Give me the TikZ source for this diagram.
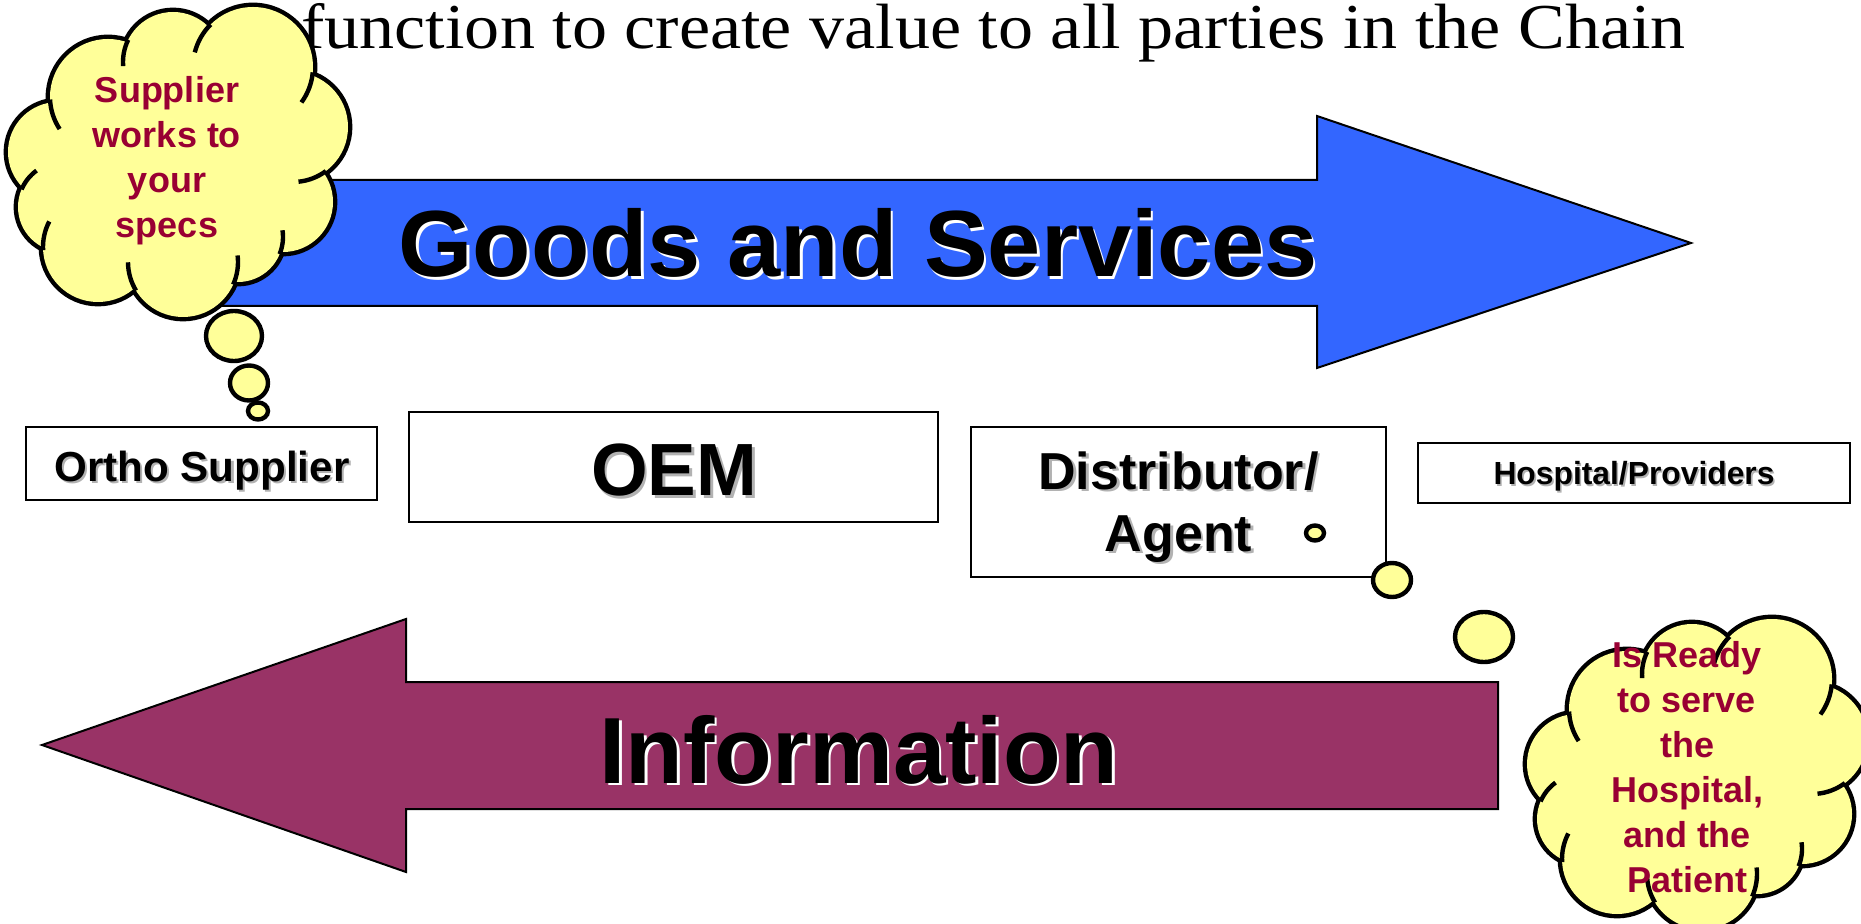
\documentclass[tikz,border=0pt]{standalone}
\usepackage{fontspec}
\usepackage{graphicx}
\setmainfont{Liberation Serif}
\newfontfamily\sansfam{Liberation Sans}

\definecolor{goodsblue}{HTML}{3366FF}
\definecolor{infopurple}{HTML}{993366}
\definecolor{cloudyellow}{HTML}{FFFF99}
\definecolor{cloudred}{HTML}{990033}
\definecolor{labelshadow}{HTML}{B2B2B2}

% text with an offset copy behind it
\newcommand\shadowed[3]{\rlap{\kern#2\raisebox{-#2}{\textcolor{#3}{#1}}}#1}

% lobes of the cloud (x/y/radius, y downwards) and the notches that get an inner stub
\def\lobelist{-120/-10/50, -70/-65/58, -5/-100/50, 75/-95/60, 115/-35/55, 105/40/50, 60/75/45, 5/100/55, -80/85/55, -115/45/45}
\def\notchlist{-120/-10/50/-70/-65/58, -70/-65/58/-5/-100/50, -5/-100/50/75/-95/60, 115/-35/55/75/-95/60, 105/40/50/115/-35/55, 105/40/50/60/75/45, 60/75/45/5/100/55, -80/85/55/5/100/55, -115/45/45/-80/85/55, -120/-10/50/-115/45/45}

\tikzset{
  thought/.pic={
    % outline pass
    \foreach \cx/\cy/\r in \lobelist
      {\filldraw[fill=cloudyellow, draw=black, line width=4.4pt] (\cx,\cy) circle[radius=\r];}
    \filldraw[fill=cloudyellow, draw=black, line width=4.4pt] (0,0) ellipse[x radius=115, y radius=95];
    % fill pass hides the inner parts of the outlines
    \foreach \cx/\cy/\r in \lobelist
      {\fill[cloudyellow] (\cx,\cy) circle[radius=\r];}
    \fill[cloudyellow] (0,0) ellipse[x radius=115, y radius=95];
    % short arcs running on from the notches
    \foreach \ax/\ay/\ar/\bx/\by/\br in \notchlist {
      \pgfmathsetmacro\cdist{veclen((\ax)-(\bx),(\ay)-(\by))}
      \pgfmathsetmacro\cphi{atan2((\ay)-(\by),(\ax)-(\bx))}
      \pgfmathsetmacro\cgam{acos(((\cdist)^2+(\br)^2-(\ar)^2)/(2*(\cdist)*(\br)))}
      \pgfmathsetmacro\cpa{veclen((\bx)+(\br)*cos((\cphi)+(\cgam)),(\by)+(\br)*sin((\cphi)+(\cgam)))}
      \pgfmathsetmacro\cpb{veclen((\bx)+(\br)*cos((\cphi)-(\cgam)),(\by)+(\br)*sin((\cphi)-(\cgam)))}
      \pgfmathsetmacro\csg{ifthenelse(\cpa>\cpb,1,-1)}
      \pgfmathsetmacro\stubA{(\cphi)+(\csg)*((\cgam)+3)}
      \pgfmathsetmacro\stubB{(\cphi)+(\csg)*((\cgam)-28)}
      \draw[draw=black, line width=2.2pt] (\bx,\by) ++(\stubA:\br) arc[start angle=\stubA, end angle=\stubB, radius=\br];
    }
  }
}

\begin{document}
\begin{tikzpicture}[x=0.5pt, y=-0.5pt,
  box/.style={draw=black, line width=1pt, fill=white, inner sep=0pt, outer sep=0pt},
  arrowline/.style={draw=black, line width=1pt, line join=miter},
  bubble/.style={draw=black, line width=2.2pt, fill=cloudyellow},
  lbl/.style={inner sep=0pt, font=\sansfam\bfseries},
  bigtext/.style={inner sep=0pt, anchor=base west, font=\sansfam\bfseries\fontsize{47}{56}\selectfont},
  cloudtext/.style={inner sep=0pt, align=center, anchor=north, text=cloudred,
    font=\sansfam\bfseries\fontsize{18}{22.5}\selectfont},
]
\useasboundingbox (0,0) rectangle (1861,924);
\clip (0,0) rectangle (1861,924);

% heading line
\node[inner sep=0pt, anchor=base west, font=\fontsize{32}{38}\selectfont] (title) at (301,49)
  {\resizebox{692pt}{\height}{function to create value to all parties in the Chain}};

% goods flow, left to right
\draw[arrowline, fill=goodsblue] (170,180) -- (1317,180) -- (1317,116) -- (1691,243)
  -- (1317,368) -- (1317,306) -- (170,306) -- cycle;
\node[bigtext] (goods) at (398,277)
  {\resizebox{459.5pt}{\height}{\shadowed{Goods and Services}{1.3pt}{white}}};

% information flow, right to left
\draw[arrowline, fill=infopurple] (1498,682) -- (406,682) -- (406,619) -- (42,745)
  -- (406,872) -- (406,809) -- (1498,809) -- cycle;
\node[bigtext] (info) at (599,783)
  {\resizebox{259.5pt}{\height}{\shadowed{Information}{1.3pt}{white}}};

% parties in the chain
\node[box, minimum width=175.5pt, minimum height=36.5pt] (ortho) at (201.5,463.5) {};
\node[lbl, anchor=base, font=\sansfam\bfseries\fontsize{21}{25}\selectfont] (ortho-t) at (202,481)
  {\resizebox{147.5pt}{\height}{\shadowed{Ortho Supplier}{1pt}{labelshadow}}};

\node[box, minimum width=264.5pt, minimum height=55pt] (oem) at (673.5,467) {};
\node[lbl, anchor=base, font=\sansfam\bfseries\fontsize{37}{44}\selectfont] (oem-t) at (674,495)
  {\resizebox{83pt}{\height}{\shadowed{OEM}{1.5pt}{labelshadow}}};

\node[box, minimum width=207.5pt, minimum height=75pt] (dist) at (1178.5,502) {};
\node[lbl, anchor=north, align=center, font=\sansfam\bfseries\fontsize{26}{31}\selectfont] (dist-t) at (1178.5,451)
  {\shadowed{Distributor/}{1.3pt}{labelshadow}\\\shadowed{Agent}{1.3pt}{labelshadow}};

\node[box, minimum width=216pt, minimum height=30pt] (hosp) at (1634,473) {};
\node[lbl, anchor=base, font=\sansfam\bfseries\fontsize{16}{19}\selectfont] (hosp-t) at (1634,485)
  {\resizebox{140.5pt}{\height}{\shadowed{Hospital/Providers}{0.8pt}{labelshadow}}};

% supplier thought
\pic (supcloud) at (178,162) {thought};
\draw[bubble] (234,336) ellipse[x radius=28, y radius=25];
\draw[bubble] (249,383) ellipse[x radius=19, y radius=17.5];
\draw[bubble] (258,411) ellipse[x radius=10, y radius=8.5];
\node[cloudtext] (sup-t) at (167,76) {Supplier\\works to\\your\\specs};

% distributor thought
\draw[bubble] (1315,533) ellipse[x radius=9, y radius=7.5];
\draw[bubble] (1392,580) ellipse[x radius=19, y radius=17];
\draw[bubble] (1484,637) ellipse[x radius=29, y radius=25];
\pic (distcloud) at (1697,774) {thought};
\node[cloudtext] (ready-t) at (1687,641) {Is Ready\\to serve\\the\\Hospital,\\and the\\Patient};
\end{tikzpicture}
\end{document}
